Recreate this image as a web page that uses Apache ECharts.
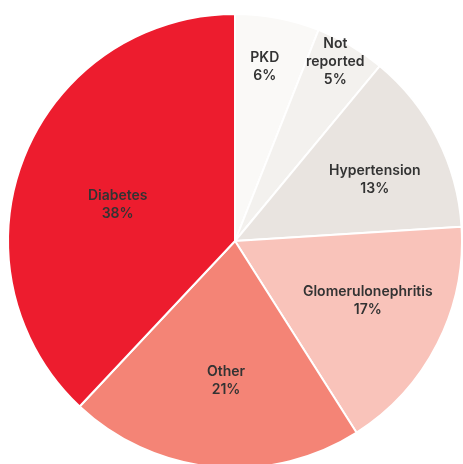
<!DOCTYPE html>
<html>
<head>
<meta charset="utf-8">
<script src="https://cdn.jsdelivr.net/npm/echarts@6/dist/echarts.min.js"></script>
<style>
html,body{margin:0;padding:0;background:#fff;}
#chart{width:463px;height:464px;}
</style>
</head>
<body>
<div id="chart"></div>
<script>
const categories = ['PKD', 'Not\nreported', 'Hypertension', 'Glomerulonephritis', 'Other', 'Diabetes'];
const values = [6, 5, 13, 17, 21, 38];
const colors = ['#faf9f7', '#f3f1ee', '#e9e4e0', '#f9c3ba', '#f48476', '#ed1c2e'];
const labelShift = [[8, -60], [41, -79], [36, -8], [29, 7], [2, 24], [-9, 7]];

const chart = echarts.init(document.getElementById('chart'), null, {renderer: 'canvas'});
chart.setOption({
  animation: false,
  backgroundColor: '#ffffff',
  series: [{
    type: 'pie',
    center: [235, 241],
    radius: [0, 227],
    startAngle: 90,
    clockwise: true,
    avoidLabelOverlap: false,
    data: categories.map((c, i) => ({name: c, value: values[i], itemStyle: {color: colors[i]}})),
    itemStyle: {borderColor: '#ffffff', borderWidth: 2},
    label: {
      show: true,
      position: 'inside',
      formatter: p => p.name + '\n' + p.value + '%',
      color: '#333333',
      fontFamily: 'Inter',
      fontWeight: 600,
      fontSize: 14,
      lineHeight: 18,
      align: 'center'
    },
    labelLine: {show: false},
    labelLayout: params => ({dx: labelShift[params.dataIndex][0], dy: labelShift[params.dataIndex][1]}),
    emphasis: {disabled: true}
  }]
});
</script>
</body>
</html>
